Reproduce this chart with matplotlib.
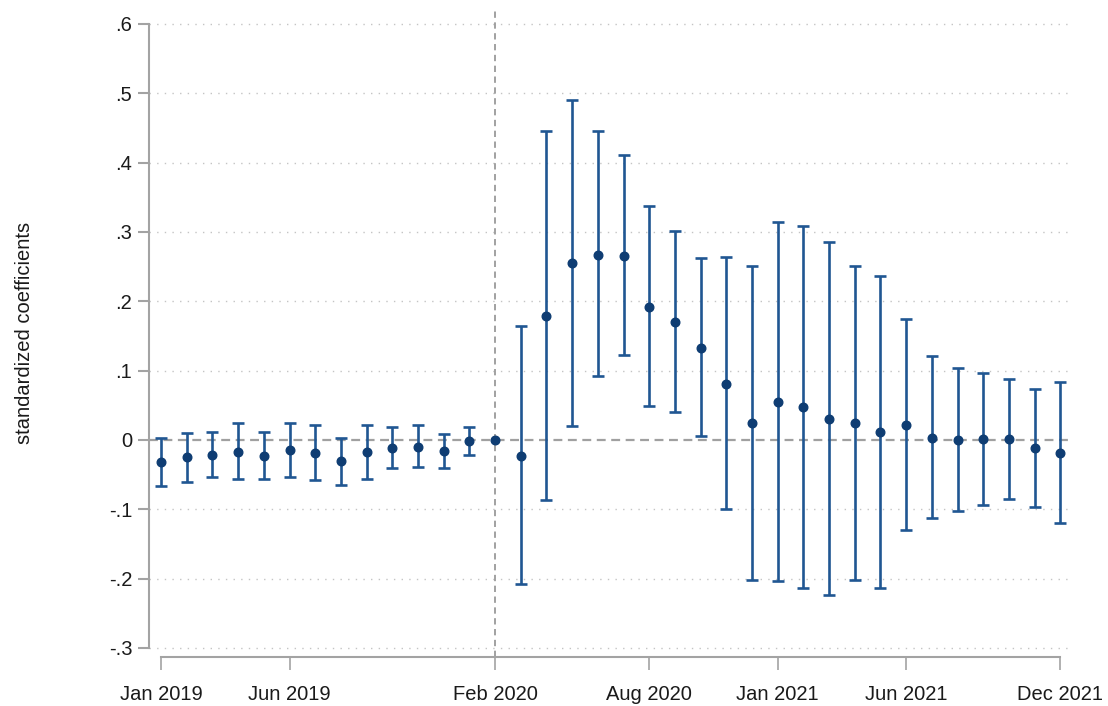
import numpy as np
import pandas as pd
import matplotlib
matplotlib.use("Agg")
import matplotlib.pyplot as plt

plt.rcParams["font.family"] = ["Liberation Sans", "DejaVu Sans"]

# monthly event-study coefficients, Jan 2019 - Dec 2021 (Feb 2020 = reference month)
months = pd.date_range("2019-01-01", "2021-12-01", freq="MS")
coef = [-0.032, -0.025, -0.022, -0.017, -0.023, -0.015, -0.019, -0.031, -0.017, -0.011,
        -0.010, -0.016, -0.001, 0.000, -0.023, 0.179, 0.255, 0.267, 0.265, 0.192,
        0.170, 0.133, 0.081, 0.024, 0.055, 0.047, 0.030, 0.024, 0.011, 0.021,
        0.003, 0.000, 0.001, 0.001, -0.012, -0.019]
ci_hi = [0.003, 0.010, 0.012, 0.024, 0.011, 0.024, 0.021, 0.003, 0.022, 0.019,
         0.021, 0.008, 0.019, np.nan, 0.164, 0.446, 0.491, 0.445, 0.411, 0.337,
         0.301, 0.262, 0.264, 0.251, 0.315, 0.309, 0.285, 0.251, 0.237, 0.174,
         0.121, 0.104, 0.097, 0.088, 0.074, 0.084]
ci_lo = [-0.067, -0.060, -0.054, -0.056, -0.056, -0.053, -0.058, -0.065, -0.056, -0.041,
         -0.039, -0.040, -0.021, np.nan, -0.208, -0.086, 0.020, 0.092, 0.122, 0.049,
         0.041, 0.006, -0.100, -0.202, -0.203, -0.213, -0.223, -0.202, -0.213, -0.130,
         -0.112, -0.103, -0.094, -0.085, -0.097, -0.120]
tick_months = ["2019-01", "2019-06", "2020-02", "2020-08", "2021-01", "2021-06", "2021-12"]
yticks = [-0.3, -0.2, -0.1, 0.0, 0.1, 0.2, 0.3, 0.4, 0.5, 0.6]
ref_month = "2020-02"

x = np.arange(len(months))
coef = np.array(coef)
lo = np.array(ci_lo)
hi = np.array(ci_hi)
labels = list(months.strftime("%Y-%m"))

fig = plt.figure(figsize=(11.08, 7.06), dpi=100)
ax = fig.add_axes([0.1345, 0.0694, 0.8303, 0.9193])

axis_col = "#a3a3a3"
navy = "#0f3d73"
bar_col = "#205692"

# gridlines
for v in yticks:
    if v != 0:
        ax.axhline(v, color="#c4c4c4", lw=1.0, ls=(0, (1, 4.5)), zorder=0)
ax.axhline(0, color="#a0a0a0", lw=1.6, ls=(0, (4, 2.5)), zorder=1)
ax.axvline(x[labels.index(ref_month)], color="#9a9a9a", lw=1.3, ls=(0, (3.5, 2.5)), zorder=1)

ok = ~np.isnan(lo)
ax.errorbar(x[ok], coef[ok], yerr=[coef[ok] - lo[ok], hi[ok] - coef[ok]],
            fmt="none", ecolor=bar_col, elinewidth=1.9, capsize=4.4, capthick=1.9, zorder=3)
ax.plot(x, coef, "o", color=navy, ms=6.2, zorder=4, ls="none")

ax.set_xlim(-0.47, 35.34)
ax.set_ylim(-0.313, 0.623)

ax.set_yticks(yticks)
ax.set_yticklabels([("0" if v == 0 else f"{v:.1f}".replace("0.", ".")) for v in yticks])
pos = [labels.index(m) for m in tick_months]
ax.set_xticks(x[pos])
ax.set_xticklabels(months[pos].strftime("%b %Y"))

for s in ["top", "right"]:
    ax.spines[s].set_visible(False)
ax.spines["left"].set_color(axis_col)
ax.spines["left"].set_linewidth(1.5)
ax.spines["left"].set_bounds(-0.3, 0.6)
ax.spines["bottom"].set_color(axis_col)
ax.spines["bottom"].set_linewidth(1.5)
ax.spines["bottom"].set_bounds(x[0], x[-1])

ax.tick_params(axis="y", length=8, width=1.5, color=axis_col, labelsize=14.5,
               labelcolor="#1a1a1a", pad=4)
ax.tick_params(axis="x", length=9, width=1.2, color=axis_col, labelsize=14.5,
               labelcolor="#1a1a1a", pad=11)

ax.set_ylabel("standardized coefficients", fontsize=14.5, color="#1a1a1a", labelpad=54)

fig.savefig("out.png", dpi=100)
